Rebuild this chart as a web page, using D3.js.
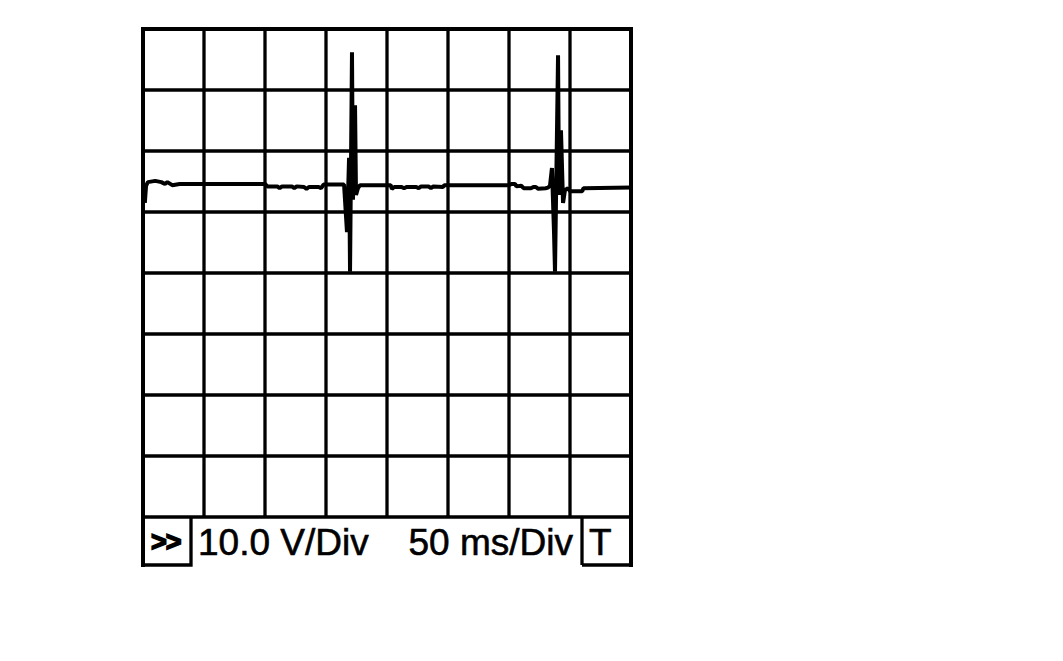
<!DOCTYPE html>
<html>
<head>
<meta charset="utf-8">
<script src="https://cdn.jsdelivr.net/npm/d3@7"></script>
<style>
  body { margin: 0; background: #fff; }
  svg { display: block; }
  text { font-family: "Liberation Sans", Arial, sans-serif; fill: #000; }
</style>
</head>
<body>
<div id="scope"></div>
<script>
// scope settings
var timeTicks = [0, 50, 100, 150, 200, 250, 300, 350, 400];      // ms, 50 ms/div
var voltTicks = [-40, -30, -20, -10, 0, 10, 20, 30, 40];         // V, 10 V/div
var voltLabel = "10.0 V/Div";
var timeLabel = "50 ms/Div";
var leftButton = ">>";
var rightButton = "T";

// captured trace, time in ms and voltage in V
var traceTime = [
  1.5, 2.5, 4, 10, 15, 18, 20, 24, 30, 100,
  102, 110, 112, 114, 122, 124, 126, 132, 134, 136, 144, 146, 148, 164.8,
  167.2, 168.9, 169.7, 171.3, 172.1, 173.8, 174.6, 176.2, 177.9,
  203, 204, 206, 212, 214, 216, 224, 226, 228, 234, 236, 238, 246, 247, 300,
  302, 305, 306, 310, 312, 318, 320, 322, 324, 330, 332,
  333.6, 335.2, 336.9, 337.7, 340.2, 341.0, 342.6, 344.3, 345.9, 348.4,
  350, 360, 361, 400
];
var traceVolts = [
  11.5, 14.3, 14.9, 15.1, 14.9, 14.6, 14.9, 14.4, 14.6, 14.6,
  14.2, 14.2, 13.9, 14.2, 14.2, 13.9, 14.2, 14.1, 13.8, 14.1, 14.1, 13.9, 14.5, 14.5,
  6.7, 18.9, 0.2, 36.2, 12.0, 27.5, 12.8, 13.9, 14.4,
  14.4, 13.8, 14.1, 14.1, 13.9, 14.1, 14.1, 13.9, 14.2, 14.2, 13.9, 14.2, 14.1, 14.4, 14.4,
  14.6, 14.6, 14.2, 14.3, 13.9, 13.9, 14.1, 14.1, 13.8, 13.9, 14.0,
  14.3, 17.2, 6.7, 0.2, 35.7, 12.8, 23.4, 11.5, 13.6, 13.9,
  13.4, 13.4, 13.9, 14.0
];

var width = 1063,
    height = 661,
    screen = {left: 143, top: 29, right: 631, bottom: 517},
    barHeight = 48;

var xScale = d3.scaleLinear().domain([0, 400]).range([screen.left, screen.right]);
var yScale = d3.scaleLinear().domain([-40, 40]).range([screen.bottom, screen.top]);

var svg = d3.select("#scope").append("svg")
    .attr("width", width)
    .attr("height", height);

svg.append("rect")
    .attr("width", width)
    .attr("height", height)
    .attr("fill", "#fff");

// grid
var grid = svg.append("g").attr("stroke", "#000").attr("stroke-width", 3.3);

grid.selectAll(".vline")
  .data(timeTicks.slice(1, -1))
  .enter().append("line")
    .attr("class", "vline")
    .attr("x1", function(d) { return xScale(d); })
    .attr("x2", function(d) { return xScale(d); })
    .attr("y1", yScale(40))
    .attr("y2", yScale(-40));

grid.selectAll(".hline")
  .data(voltTicks)
  .enter().append("line")
    .attr("class", "hline")
    .attr("x1", xScale(0))
    .attr("x2", xScale(400))
    .attr("y1", function(d) { return yScale(d); })
    .attr("y2", function(d) { return yScale(d); });

// outer frame sides run down into the status bar
var barBottom = yScale(-40) + barHeight;
svg.append("g").attr("stroke", "#000").attr("stroke-width", 4)
  .selectAll("line")
  .data([0, 400])
  .enter().append("line")
    .attr("x1", function(d) { return xScale(d); })
    .attr("x2", function(d) { return xScale(d); })
    .attr("y1", yScale(40) - 2)
    .attr("y2", barBottom + 2);

svg.append("line")
    .attr("x1", xScale(0) - 2).attr("x2", xScale(400) + 2)
    .attr("y1", yScale(40)).attr("y2", yScale(40))
    .attr("stroke", "#000").attr("stroke-width", 4);

// status bar buttons
var buttons = [
  {label: leftButton, x0: xScale(0), x1: xScale(0) + 48},
  {label: rightButton, x0: xScale(400) - 49, x1: xScale(400)}
];
var btn = svg.append("g").attr("fill", "none").attr("stroke", "#000").attr("stroke-width", 3.3);
buttons.forEach(function(b) {
  btn.append("path")
    .attr("d", "M" + b.x0 + "," + barBottom + "H" + b.x1 + "V" + yScale(-40));
  btn.append("path")
    .attr("d", "M" + b.x0 + "," + barBottom + "V" + yScale(-40));
});

// chevrons are heavy in the original, so stroke the glyphs too
svg.append("text")
    .attr("x", buttons[0].x0 + 8)
    .attr("y", 551)
    .attr("font-size", 27)
    .attr("font-weight", "bold")
    .attr("stroke", "#000")
    .attr("stroke-width", 1.6)
    .attr("letter-spacing", -1)
    .text(leftButton);

var labels = svg.append("g")
    .attr("font-size", 37)
    .attr("stroke", "#000")
    .attr("stroke-width", 0.6);

labels.append("text")
    .attr("x", buttons[1].x0 + 7)
    .attr("y", 555)
    .text(rightButton);

labels.append("text")
    .attr("x", 198)
    .attr("y", 555)
    .text(voltLabel);

labels.append("text")
    .attr("x", 573)
    .attr("y", 555)
    .attr("text-anchor", "end")
    .text(timeLabel);

// trace
var trace = traceTime.map(function(t, i) { return [t, traceVolts[i]]; });
var line = d3.line()
    .x(function(d) { return xScale(d[0]); })
    .y(function(d) { return yScale(d[1]); });

svg.append("path")
    .datum(trace)
    .attr("d", line)
    .attr("fill", "none")
    .attr("stroke", "#000")
    .attr("stroke-width", 4)
    .attr("stroke-linejoin", "bevel");
</script>
</body>
</html>
